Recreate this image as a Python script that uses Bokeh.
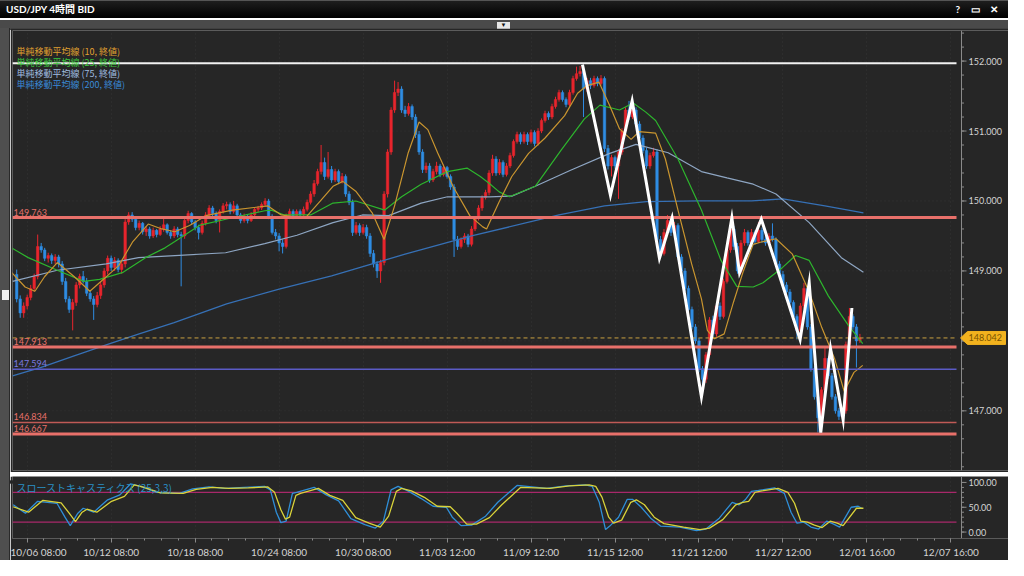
import numpy as np
from bokeh.plotting import figure
from bokeh.models import (Range1d, FixedTicker, ColumnDataSource, Div, CustomJSTickFormatter)
from bokeh.layouts import column, row
from bokeh.embed import file_html
from bokeh.resources import INLINE
from bokeh.core.properties import value

# ---------------- data (USD/JPY 4h candles) ----------------
opens = [148.95, 148.60, 148.40, 148.50, 148.62, 148.75, 148.92, 149.35, 149.30, 149.18,
         149.22, 149.15, 149.20, 149.10, 148.85, 148.60, 148.45, 148.55, 148.80, 148.92,
         148.85, 148.68, 148.60, 148.52, 148.65, 148.80, 149.00, 149.18, 149.05, 149.15,
         149.02, 149.10, 149.70, 149.80, 149.74, 149.62, 149.68, 149.56, 149.60, 149.50,
         149.58, 149.52, 149.60, 149.66, 149.55, 149.50, 149.60, 149.52, 149.50, 149.72,
         149.82, 149.70, 149.62, 149.55, 149.68, 149.80, 149.90, 149.82, 149.72, 149.85,
         149.93, 149.95, 149.85, 149.93, 149.80, 149.72, 149.78, 149.72, 149.80, 149.88,
         149.90, 149.95, 150.00, 149.78, 149.55, 149.50, 149.40, 149.35, 149.78, 149.85,
         149.78, 149.85, 149.80, 149.88, 149.98, 150.10, 150.25, 150.42, 150.55, 150.35,
         150.45, 150.30, 150.42, 150.28, 150.35, 150.10, 149.98, 149.55, 149.65, 149.55,
         149.62, 149.50, 149.25, 149.10, 149.00, 149.12, 150.10, 150.70, 151.30, 151.55,
         151.60, 151.30, 151.25, 151.35, 151.20, 150.95, 150.70, 150.45, 150.50, 150.30,
         150.42, 150.50, 150.38, 150.48, 150.35, 150.20, 149.45, 149.35, 149.45, 149.50,
         149.38, 149.60, 149.75, 149.90, 150.05, 150.12, 150.40, 150.60, 150.40, 150.55,
         150.38, 150.50, 150.65, 150.85, 150.95, 150.85, 150.95, 150.85, 150.98, 150.82,
         151.00, 151.15, 151.25, 151.20, 151.35, 151.45, 151.55, 151.45, 151.38, 151.55,
         151.75, 151.82, 151.85, 151.60, 151.72, 151.65, 151.75, 151.68, 151.75, 150.75,
         150.50, 150.62, 150.50, 150.70, 151.00, 151.30, 151.20, 151.30, 151.10, 150.90,
         150.72, 150.50, 150.65, 150.70, 149.45, 149.25, 149.55, 149.72, 149.55, 149.65,
         149.20, 149.00, 148.75, 148.45, 148.20, 148.00, 147.60, 147.45, 147.80, 148.30,
         148.10, 148.50, 148.35, 148.85, 149.30, 149.60, 149.35, 149.00, 149.40, 149.55,
         149.40, 149.55, 149.42, 149.58, 149.45, 149.40, 149.50, 149.45, 149.10, 148.95,
         148.80, 148.70, 148.55, 148.35, 148.15, 148.50, 148.75, 148.20, 147.60, 147.20,
         146.90, 147.30, 147.75, 147.50, 147.20, 147.00, 146.92, 147.00, 147.95, 148.35,
         148.20, 148.00]
highs = [149.02, 148.65, 148.55, 148.66, 148.80, 148.96, 149.52, 149.40, 149.33, 149.26,
         149.25, 149.24, 149.23, 149.14, 148.90, 148.64, 148.60, 148.84, 148.96, 149.00,
         148.90, 148.72, 148.64, 148.70, 148.84, 149.04, 149.22, 149.22, 149.20, 149.18,
         149.14, 149.74, 149.84, 149.84, 149.78, 149.72, 149.70, 149.64, 149.63, 149.62,
         149.60, 149.64, 149.75, 149.68, 149.58, 149.64, 149.63, 149.56, 149.76, 149.86,
         149.84, 149.73, 149.66, 149.72, 149.84, 149.94, 149.93, 149.85, 149.88, 149.97,
         149.99, 149.98, 150.00, 149.96, 149.83, 149.82, 149.81, 149.84, 149.91, 149.93,
         149.98, 150.04, 150.03, 149.81, 149.60, 149.54, 149.45, 149.82, 149.89, 149.88,
         149.88, 149.88, 149.92, 150.02, 150.14, 150.30, 150.46, 150.80, 150.62, 150.70,
         150.50, 150.46, 150.45, 150.40, 150.38, 150.14, 150.02, 149.70, 149.68, 149.67,
         149.66, 149.54, 149.30, 149.14, 149.16, 150.14, 150.74, 151.34, 151.72, 151.70,
         151.64, 151.36, 151.40, 151.38, 151.24, 151.00, 150.74, 150.55, 150.54, 150.46,
         150.56, 150.53, 150.52, 150.50, 150.38, 150.24, 149.50, 149.48, 149.54, 149.53,
         149.64, 149.78, 149.94, 150.08, 150.16, 150.44, 150.66, 150.64, 150.60, 150.58,
         150.54, 150.69, 150.88, 150.99, 150.98, 150.99, 150.98, 151.02, 151.01, 151.04,
         151.18, 151.29, 151.28, 151.39, 151.49, 151.59, 151.58, 151.48, 151.59, 151.79,
         151.92, 151.93, 151.88, 151.76, 151.76, 151.79, 151.78, 151.80, 151.78, 150.80,
         150.66, 150.65, 150.74, 151.04, 151.34, 151.43, 151.40, 151.34, 151.14, 150.94,
         150.76, 150.69, 150.76, 150.74, 149.50, 149.60, 149.80, 149.76, 149.70, 149.68,
         149.24, 149.04, 148.79, 148.49, 148.24, 148.04, 147.64, 147.84, 148.34, 148.36,
         148.54, 148.55, 148.89, 149.34, 149.72, 149.64, 149.40, 149.44, 149.60, 149.58,
         149.60, 149.58, 149.70, 149.62, 149.50, 149.54, 149.68, 149.48, 149.14, 149.00,
         148.84, 148.74, 148.58, 148.38, 148.54, 148.83, 148.78, 148.24, 147.64, 147.24,
         147.34, 147.90, 147.78, 147.54, 147.24, 147.04, 147.04, 147.99, 148.47, 148.38,
         148.24, 148.10]
lows = [148.55, 148.33, 148.33, 148.45, 148.58, 148.70, 148.88, 149.26, 149.14, 149.12,
        149.10, 149.10, 149.05, 148.80, 148.55, 148.40, 148.15, 148.50, 148.75, 148.82,
        148.64, 148.56, 148.30, 148.48, 148.60, 148.76, 148.95, 149.00, 149.00, 148.98,
        148.96, 149.05, 149.66, 149.70, 149.58, 149.58, 149.52, 149.50, 149.46, 149.47,
        149.48, 149.50, 149.56, 149.52, 149.46, 149.47, 149.48, 148.78, 149.46, 149.68,
        149.66, 149.58, 149.45, 149.52, 149.65, 149.76, 149.78, 149.68, 149.55, 149.82,
        149.88, 149.81, 149.82, 149.76, 149.68, 149.69, 149.68, 149.70, 149.77, 149.84,
        149.87, 149.92, 149.74, 149.52, 149.45, 149.28, 149.25, 149.32, 149.74, 149.74,
        149.75, 149.76, 149.77, 149.85, 149.95, 150.06, 150.22, 150.38, 150.30, 150.32,
        150.26, 150.27, 150.24, 150.25, 150.06, 149.94, 149.50, 149.52, 149.50, 149.52,
        149.46, 149.20, 149.05, 148.90, 148.83, 149.08, 150.05, 150.66, 151.26, 151.50,
        151.26, 151.20, 151.22, 151.16, 150.90, 150.66, 150.40, 150.40, 150.26, 150.27,
        150.38, 150.34, 150.35, 150.32, 150.16, 149.20, 149.30, 149.32, 149.40, 149.34,
        149.35, 149.57, 149.72, 149.86, 150.02, 150.08, 150.36, 150.36, 150.37, 150.34,
        150.35, 150.47, 150.62, 150.82, 150.81, 150.82, 150.80, 150.82, 150.78, 150.79,
        150.97, 151.12, 151.16, 151.17, 151.32, 151.42, 151.42, 151.34, 151.35, 151.52,
        151.72, 151.78, 151.20, 151.56, 151.60, 151.62, 151.64, 151.65, 150.70, 150.45,
        150.35, 150.46, 150.03, 150.66, 150.96, 151.16, 151.17, 151.06, 150.86, 150.68,
        150.46, 150.46, 150.62, 149.40, 149.18, 149.22, 149.52, 149.50, 149.52, 149.16,
        148.96, 148.70, 148.40, 148.16, 147.96, 147.55, 147.20, 147.40, 147.76, 148.05,
        148.06, 148.30, 148.32, 148.82, 149.26, 149.30, 148.96, 148.96, 149.36, 149.36,
        149.37, 149.38, 149.40, 149.40, 149.36, 149.37, 149.42, 149.06, 148.90, 148.76,
        148.66, 148.50, 148.30, 148.02, 148.12, 148.46, 148.16, 147.56, 147.16, 146.69,
        146.86, 147.26, 147.46, 147.16, 146.96, 146.87, 146.88, 146.96, 147.92, 148.16,
        147.62, 147.97]
closes = [148.60, 148.40, 148.50, 148.62, 148.75, 148.92, 149.35, 149.30, 149.18, 149.22,
          149.15, 149.20, 149.10, 148.85, 148.60, 148.45, 148.55, 148.80, 148.92, 148.85,
          148.68, 148.60, 148.52, 148.65, 148.80, 149.00, 149.18, 149.05, 149.15, 149.02,
          149.10, 149.70, 149.80, 149.74, 149.62, 149.68, 149.56, 149.60, 149.50, 149.58,
          149.52, 149.60, 149.66, 149.55, 149.50, 149.60, 149.52, 149.50, 149.72, 149.82,
          149.70, 149.62, 149.55, 149.68, 149.80, 149.90, 149.82, 149.72, 149.85, 149.93,
          149.95, 149.85, 149.93, 149.80, 149.72, 149.78, 149.72, 149.80, 149.88, 149.90,
          149.95, 150.00, 149.78, 149.55, 149.50, 149.40, 149.35, 149.78, 149.85, 149.78,
          149.85, 149.80, 149.88, 149.98, 150.10, 150.25, 150.42, 150.55, 150.35, 150.45,
          150.30, 150.42, 150.28, 150.35, 150.10, 149.98, 149.55, 149.65, 149.55, 149.62,
          149.50, 149.25, 149.10, 149.00, 149.12, 150.10, 150.70, 151.30, 151.55, 151.60,
          151.30, 151.25, 151.35, 151.20, 150.95, 150.70, 150.45, 150.50, 150.30, 150.42,
          150.50, 150.38, 150.48, 150.35, 150.20, 149.45, 149.35, 149.45, 149.50, 149.38,
          149.60, 149.75, 149.90, 150.05, 150.12, 150.40, 150.60, 150.40, 150.55, 150.38,
          150.50, 150.65, 150.85, 150.95, 150.85, 150.95, 150.85, 150.98, 150.82, 151.00,
          151.15, 151.25, 151.20, 151.35, 151.45, 151.55, 151.45, 151.38, 151.55, 151.75,
          151.82, 151.85, 151.60, 151.72, 151.65, 151.75, 151.68, 151.75, 150.75, 150.50,
          150.62, 150.50, 150.70, 151.00, 151.30, 151.20, 151.30, 151.10, 150.90, 150.72,
          150.50, 150.65, 150.70, 149.45, 149.25, 149.55, 149.72, 149.55, 149.65, 149.20,
          149.00, 148.75, 148.45, 148.20, 148.00, 147.60, 147.45, 147.80, 148.30, 148.10,
          148.50, 148.35, 148.85, 149.30, 149.60, 149.35, 149.00, 149.40, 149.55, 149.40,
          149.55, 149.42, 149.58, 149.45, 149.40, 149.50, 149.45, 149.10, 148.95, 148.80,
          148.70, 148.55, 148.35, 148.15, 148.50, 148.75, 148.20, 147.60, 147.20, 146.90,
          147.30, 147.75, 147.50, 147.20, 147.00, 146.92, 147.00, 147.95, 148.35, 148.20,
          148.00, 148.042]

# simple moving averages (at sample candles)
ma10_idx = [-1.5, 2.4, 5.2, 8, 11.6, 16.4, 20.9, 24.8, 29.2, 33.2, 37.6, 41.5, 45.2, 49.4, 54.1,
            61.6, 71.7, 75.6, 81.2, 82.9, 86.8, 90.4, 93.2, 96.9, 101.6, 105, 108, 111.9, 115,
            117.5, 120.3, 124.8, 129.5, 133.2, 134.3, 137.9, 141.5, 146.3, 151, 156.6, 160.3,
            163, 166.4, 169.5, 172.3, 175.6, 177.9, 182.6, 185.4, 189, 192.9, 195.7, 197.4,
            199.4, 202.2, 204.9, 207.7, 210.5, 213.3, 217, 221.7, 226.5, 230.1, 233.8, 236.5,
            239.3, 241.8]
ma10_val = [148.98, 148.77, 148.71, 148.92, 149.12, 148.92, 148.71, 148.88, 149.08, 149.42,
            149.67, 149.60, 149.56, 149.65, 149.79, 149.87, 149.93, 149.80, 149.76, 149.78,
            150.00, 150.21, 150.28, 150.14, 149.83, 149.45, 149.93, 150.69, 151.13, 151.02,
            150.69, 150.20, 149.79, 149.63, 149.60, 149.99, 150.35, 150.68, 150.90, 151.22,
            151.54, 151.65, 151.70, 151.36, 151.03, 150.88, 150.99, 150.97, 150.60, 149.87,
            149.10, 148.60, 148.15, 148.03, 148.10, 148.56, 149.00, 149.38, 149.42, 149.46,
            149.24, 148.70, 148.19, 147.74, 147.28, 147.55, 147.65]
ma25_idx = [-1.5, 3.3, 11.6, 19.2, 23.7, 30.4, 36.8, 42.4, 45.2, 52.2, 61.6, 70.9, 72.8, 76.5,
            84, 90.4, 96.9, 105.2, 110, 115.6, 123.1, 128.7, 132.5, 135.1, 137.9, 140.8, 148.2,
            155.5, 162.2, 166.7, 172.3, 176.2, 179.8, 182.6, 189, 195.7, 201.3, 205.8, 210.5,
            213.3, 218.9, 222.6, 226.5, 232, 237.6, 241.8]
ma25_val = [149.33, 149.19, 149.01, 148.85, 148.88, 148.98, 149.19, 149.33, 149.42, 149.65,
            149.76, 149.86, 149.87, 149.80, 149.80, 149.97, 150.00, 149.87, 150.06, 150.24,
            150.42, 150.47, 150.35, 150.25, 150.13, 150.06, 150.21, 150.72, 151.17, 151.37,
            151.30, 151.40, 151.27, 151.15, 150.60, 149.87, 149.15, 148.78, 148.77, 148.83,
            149.05, 149.22, 149.15, 148.64, 148.23, 147.96]
ma75_idx = [-1.2, 11.6, 25.6, 34.8, 45.2, 59.7, 70.9, 80.1, 90.4, 98.8, 106.3, 115.6, 123.1,
            135.1, 141.5, 148.2, 158.3, 169.5, 177, 186.2, 195.7, 203, 210.5, 217, 226.5,
            235.7, 242]
ma75_val = [148.85, 149.01, 149.10, 149.19, 149.22, 149.26, 149.39, 149.51, 149.69, 149.80,
            149.79, 149.97, 150.06, 150.06, 150.07, 150.21, 150.44, 150.68, 150.81, 150.69,
            150.42, 150.33, 150.24, 150.10, 149.69, 149.19, 148.98]
ma200_idx = [-1.2, 7, 16, 26, 35, 45, 60, 75, 90, 111, 130, 155, 168, 180, 195, 210, 219, 231, 242]
ma200_val = [147.50, 147.62, 147.78, 147.95, 148.10, 148.26, 148.53, 148.74, 148.93, 149.24,
             149.50, 149.80, 149.93, 149.99, 150.00, 150.00, 150.03, 149.93, 149.83]
ma_names = ["単純移動平均線 (10, 終値)", "単純移動平均線 (25, 終値)",
            "単純移動平均線 (75, 終値)", "単純移動平均線 (200, 終値)"]

# hand-drawn white zigzag
zz_idx = [161.7, 169.7, 175.9, 183.7, 187.3, 195.7, 204.4, 206.6, 212.8, 223.9, 226.5,
          229.8, 232.6, 236.2, 238.7]
zz_val = [151.95, 150.08, 151.43, 149.18, 149.76, 147.20, 149.76, 148.97, 149.74, 148.02,
          148.83, 146.69, 147.89, 146.87, 148.47]

# horizontal levels
top_line = 151.97
red_levels = [149.763, 147.913, 146.667]
thin_red_level = 146.834
blue_level = 147.594
last_price = 148.042

# slow stochastics (25,3,3): %K (blue) and %D (yellow)
k_idx = [-1, 2.5, 6, 11.5, 13.8, 15.3, 17.5, 19, 22, 26, 29.5, 32.5, 35.5, 40, 46.5, 50.3, 55,
         59.6, 65, 70.8, 72.5, 74.2, 75.5, 77, 78.8, 80, 85, 88.5, 92, 95.5, 99.5, 102.5, 104.8,
         107, 109, 111.8, 115.5, 119, 122.8, 124.5, 127, 130, 134, 137.5, 143, 151.5, 157,
         162.5, 164.5, 166.5, 168.3, 169.5, 172, 174.5, 176, 178.5, 181.2, 184, 189.5, 194.3,
         197, 200.8, 204.5, 206.5, 208.2, 210, 212, 216.6, 219.4, 221.3, 223, 225, 227, 229.2,
         231.5, 233.5, 235.2, 238.5, 240.5, 241.5]
k_val = [55, 38, 62, 58, 30, 13, 38, 48, 40, 65, 75, 97, 92, 80, 78, 87, 91, 88, 90, 92, 85, 40,
         19, 22, 78, 80, 90, 75, 63, 27, 15, 8, 22, 85, 92, 83, 68, 52, 50, 30, 13, 14, 32, 60,
         94, 88, 93, 95, 92, 60, 5, 12, 30, 66, 66, 50, 28, 12, 10, 3, 6, 28, 60, 55, 65, 82, 84,
         89, 78, 40, 18, 20, 10, 6, 22, 16, 10, 50, 52, 48]
d_idx = [-1, 3.4, 7.5, 12.7, 15, 16.8, 18.7, 20.1, 22.9, 27.1, 30.8, 33.6, 36.4, 41.1, 47.6,
         51.3, 56, 60.6, 66.2, 71.8, 73.7, 75.5, 76.8, 78, 79.8, 81.1, 86.2, 89.5, 93.2, 96.9,
         100.7, 103.9, 106.3, 108.5, 110, 112.8, 116.5, 120.2, 123.9, 125.8, 128.6, 131.4,
         135.1, 138.5, 144, 152.4, 158, 163.6, 165.5, 167.3, 169.2, 170.6, 172.9, 175.5, 177.1,
         179.4, 182.2, 185, 190.6, 195.3, 198, 201.8, 205.5, 207.5, 209.2, 211, 213, 217.6,
         220.4, 222.3, 224.1, 226, 228, 230.2, 232.5, 234.5, 236.2, 240, 242]
d_val = [51, 40, 64, 59, 38, 21, 40, 46, 40, 62, 72, 95, 90, 79, 78, 86, 90, 88, 89, 91, 80, 45,
         26, 30, 74, 78, 88, 74, 64, 29, 18, 10, 32, 82, 88, 83, 70, 52, 51, 38, 16, 16, 29, 54,
         90, 88, 93, 95, 92, 70, 30, 18, 24, 60, 65, 55, 30, 17, 10, 5, 8, 25, 55, 60, 62, 80, 83,
         88, 80, 58, 22, 20, 14, 9, 22, 18, 13, 48, 48]
stoch_levels = [80, 20]
stoch_name = "スローストキャスティクス (25,3,3)"

# time axis
tick_idx = [3, 27, 51, 75, 99, 123, 147, 171, 195, 219, 243, 267]
tick_labels = ["10/06 08:00", "10/12 08:00", "10/18 08:00", "10/24 08:00", "10/30 08:00",
               "11/03 12:00", "11/09 12:00", "11/15 12:00", "11/21 12:00", "11/27 12:00",
               "12/01 16:00", "12/07 16:00"]
price_ticks = [147, 148, 149, 150, 151, 152]
stoch_ticks = [0, 50, 100]

# ---------------- styling / geometry ----------------
BG = "#262626"
AX = "#8a8a8a"
LBL = "#d4d4d4"
FONT = "Lato"
JP = "Noto Sans CJK JP"
UP = "#e8252d"
DN = "#2f8de3"
C10, C25, C75, C200 = "#c9952f", "#2db52d", "#8ea6c3", "#3670b5"
T10, T25, T75, T200 = "#e0a030", "#3cc83c", "#a0bde0", "#3a8ad8"
REDL = "#e8706a"
GRID = "#353535"

W = 998                  # width of both panels (frames span the whole width)
AXIS_W = 52              # width reserved on the right for the price/stoch scales
X0, X1 = -1.2, 268.6     # candle index range of the plotting area
PX = (X1 - X0) / (W - 2 - AXIS_W)   # index units per pixel
XR = Range1d(X0, X0 + (W - 2) * PX)
AXX = X1 + 5 * PX        # x of the right scale line
MAIN_H = 446
Y0, Y1 = 146.147, 152.437
PY = (Y1 - Y0) / (MAIN_H - 4)   # price units per pixel
SCALE_FS = "9px"
S0, S1 = -13, 112        # stochastic panel value range (room for the scale labels)


def make_fig(height, y_range, x_axis):
    f = figure(width=W, height=height, x_range=XR, y_range=y_range, output_backend="svg",
               toolbar_location=None, tools="", x_axis_location=x_axis,
               y_axis_location=None, min_border_left=2, min_border_right=0,
               min_border_top=2 if x_axis is None else 0,
               min_border_bottom=2 if x_axis is None else 0,
               margin=0, background_fill_color=BG, border_fill_color=BG,
               outline_line_color=None)
    f.xgrid.ticker = FixedTicker(ticks=tick_idx)
    f.xgrid.grid_line_color = GRID
    f.xgrid.grid_line_dash = "1 3"
    f.ygrid.grid_line_color = None
    return f


def right_scale(f, ticks, minor, labels, y_lo, y_hi):
    f.segment(x0=[AXX], y0=[y_lo], x1=[AXX], y1=[y_hi], line_color=AX, line_width=1)
    f.segment(x0=[AXX] * len(minor), y0=minor, x1=[AXX + 2.5 * PX] * len(minor), y1=minor,
              line_color=AX, line_width=1)
    f.segment(x0=[AXX] * len(ticks), y0=ticks, x1=[AXX + 5 * PX] * len(ticks), y1=ticks,
              line_color=AX, line_width=1)
    f.text(x=[AXX + 7 * PX] * len(ticks), y=ticks, text=labels, text_color=LBL,
           text_font=value(FONT), text_font_size=SCALE_FS, text_baseline="middle",
           text_align="left")


def hline(f, level, color, width, dash="solid"):
    f.segment(x0=[X0], y0=[level], x1=[X1], y1=[level], line_color=color,
              line_width=width, line_dash=dash)


# ---------------- main panel ----------------
p = make_fig(MAIN_H, Range1d(Y0, Y1), None)
p.segment(x0=[X0] * len(price_ticks), y0=price_ticks, x1=[X1] * len(price_ticks),
          y1=price_ticks, line_color=GRID, line_width=1, line_dash="1 3")

idx = list(range(len(closes)))
up = [c >= o for o, c in zip(opens, closes)]
src = ColumnDataSource(dict(
    x=idx, high=highs, low=lows,
    top=[max(o, c) for o, c in zip(opens, closes)],
    bottom=[min(o, c) for o, c in zip(opens, closes)],
    color=[UP if u else DN for u in up]))
p.segment(x0="x", y0="high", x1="x", y1="low", line_color="color", line_width=1, source=src)
p.vbar(x="x", width=0.72, top="top", bottom="bottom", fill_color="color",
       line_color="color", line_width=0.5, source=src)

p.line(ma200_idx, ma200_val, line_color=C200, line_width=1.3)
p.line(ma75_idx, ma75_val, line_color=C75, line_width=1.2)
p.line(ma25_idx, ma25_val, line_color=C25, line_width=1.2)
p.line(ma10_idx, ma10_val, line_color=C10, line_width=1.2)

hline(p, top_line, "#f2f2f2", 2)
for lv in red_levels:
    hline(p, lv, REDL, 3)
hline(p, thin_red_level, "#c05a56", 1.5)
hline(p, blue_level, "#5b5bc6", 1.5)
hline(p, last_price, "#c9a040", 1, "4 3")

p.line(zz_idx, zz_val, line_color="white", line_width=3, line_join="miter")

for lv, colr in [(red_levels[0], REDL), (red_levels[1], REDL), (blue_level, "#7a7ae0"),
                 (thin_red_level, REDL), (red_levels[2], REDL)]:
    p.text(x=[X0 + 1 * PX], y=[lv + 2 * PY], text=[f"{lv:.3f}"], text_color=colr,
           text_font=value(FONT), text_font_size="9px", text_baseline="bottom")

for k, (name, colr) in enumerate(zip(ma_names, [T10, T25, T75, T200])):
    p.text(x=[X0 + 4 * PX], y=[Y1 - (21 + 11 * k) * PY], text=[name], text_color=colr,
           text_font=value(JP), text_font_size="9px", text_baseline="middle")

right_scale(p, price_ticks, [round(v, 1) for v in np.arange(146.2, 152.5, 0.2)],
            [f"{t:.3f}" for t in price_ticks], Y0, Y1)

# price tag on the scale
th = 6.5 * PY
p.patch(x=[AXX - 1 * PX, AXX + 6 * PX, AXX + 44 * PX, AXX + 44 * PX, AXX + 6 * PX],
        y=[last_price, last_price + th, last_price + th, last_price - th, last_price - th],
        fill_color="#f2b21e", line_color="#f2b21e")
p.text(x=[AXX + 7 * PX], y=[last_price], text=[f"{last_price:.3f}"], text_color="#7a5200",
       text_font=value(FONT), text_font_size=SCALE_FS, text_baseline="middle")

# ---------------- stochastic panel ----------------
s = make_fig(84, Range1d(S0, S1), "below")
sx = s.xaxis[0]
sx.ticker = FixedTicker(ticks=tick_idx,
                        minor_ticks=[round(v, 1) for v in np.arange(-1.8, 268, 4.8)])
sx.formatter = CustomJSTickFormatter(args=dict(t=tick_idx, l=tick_labels),
                                     code="const i = t.indexOf(tick); return i >= 0 ? l[i] : '';")
sx.axis_line_color = "#5a5a5a"
sx.major_tick_line_color = AX
sx.minor_tick_line_color = AX
sx.major_tick_in = 0
sx.major_tick_out = 4
sx.minor_tick_in = 0
sx.minor_tick_out = 2
sx.major_label_text_color = LBL
sx.major_label_text_font = FONT
sx.major_label_text_font_size = "10px"
sx.major_label_standoff = 3

for lv in stoch_levels:
    hline(s, lv, "#a8286a", 1.3)
s.line(k_idx, k_val, line_color="#2f8fd8", line_width=1.3)
s.line(d_idx, d_val, line_color="#d9d33a", line_width=1.3)
s.text(x=[X0 + 4 * PX], y=[90], text=[stoch_name], text_color="#2a8fc4",
       text_font=value(JP), text_font_size="10px", text_baseline="middle")
right_scale(s, stoch_ticks, list(range(0, 101, 10)), [f"{t:.2f}" for t in stoch_ticks],
            S0, S1)

# ---------------- window chrome ----------------
title = Div(width=1008, height=18, margin=0, text=(
    "<div style=\"width:1008px;height:18px;box-sizing:border-box;padding:0 10px 0 6px;"
    "background:linear-gradient(#1e1e1e,#000);border-top:1px solid #555;display:flex;"
    "align-items:center;justify-content:space-between;color:#fff;font-weight:bold;"
    "font-family:Lato,'Noto Sans CJK JP',sans-serif;font-size:10px;\">"
    "<span>USD/JPY 4時間 BID</span>"
    "<span style=\"word-spacing:8px\">? ▭ ✕</span></div>"))
strip = Div(width=1008, height=10, margin=0, text=(
    "<div style=\"position:relative;width:1008px;height:10px;background:#4a4a4a;\">"
    "<div style=\"position:absolute;left:497px;top:2px;width:13px;height:7px;"
    "background:#e6e6e6;color:#111;font-size:6px;line-height:7px;text-align:center;\">▼</div>"
    "</div>"))
left = Div(width=10, height=532, margin=0, text=(
    "<div style=\"position:relative;width:10px;height:532px;background:#4f4f4f;"
    "box-sizing:border-box;border-right:1px solid #2a2a2a;\">"
    "<div style=\"position:absolute;left:2px;top:262px;width:7px;height:10px;"
    "background:#f0f0f0;\"></div></div>"))
sep = Div(width=W, height=4, margin=0, text=(
    "<div style=\"width:998px;height:4px;box-sizing:border-box;background:#262626;"
    "border-top:1px solid #6e6e6e;border-bottom:1px solid #6e6e6e;\"></div>"))

main_h = MAIN_H - 2   # keep the column at 532 px: 444 + 4 + 84
p.height = main_h
p.y_range = Range1d(Y0, Y1)

layout = column(title, strip, row(left, column(p, sep, s, spacing=0, margin=0),
                                  spacing=0, margin=0), spacing=0, margin=0)
open("out.html", "w").write(file_html(layout, INLINE))
